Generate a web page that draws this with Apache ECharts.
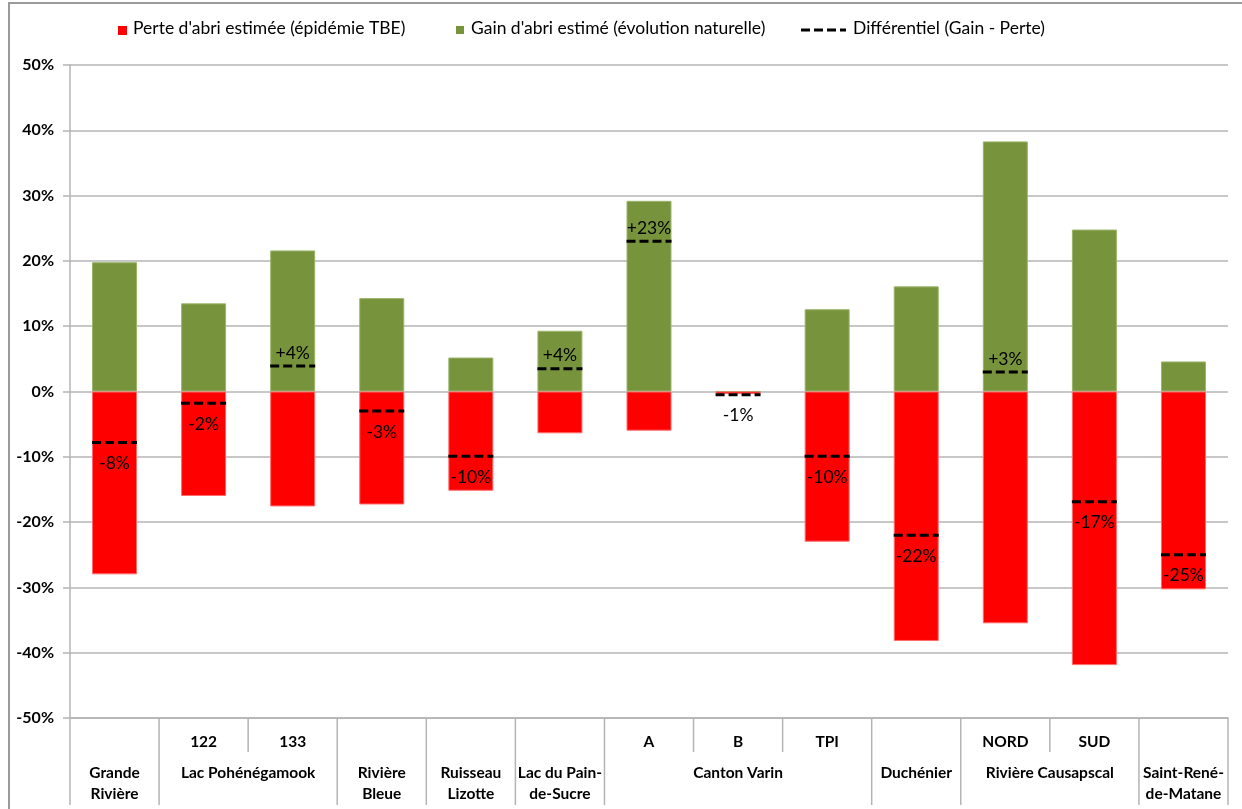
<!DOCTYPE html>
<html>
<head>
<meta charset="utf-8">
<script src="https://cdn.jsdelivr.net/npm/echarts@6/dist/echarts.min.js"></script>
<style>
  html, body { margin: 0; padding: 0; background: #fff; }
  #chart { width: 1242px; height: 809px; }
</style>
</head>
<body>
<div id="chart"></div>
<script>
// Sites (one column each), with sub-labels and the site groups they belong to
const sites = ['Grande Rivière', 'Lac Pohénégamook 122', 'Lac Pohénégamook 133', 'Rivière Bleue',
  'Ruisseau Lizotte', 'Lac du Pain-de-Sucre', 'Canton Varin A', 'Canton Varin B', 'Canton Varin TPI',
  'Duchénier', 'Rivière Causapscal NORD', 'Rivière Causapscal SUD', 'Saint-René-de-Matane'];
const subLabels = ['', '122', '133', '', '', '', 'A', 'B', 'TPI', '', 'NORD', 'SUD', ''];
const groupNames = ['Grande\nRivière', 'Lac Pohénégamook', 'Rivière\nBleue', 'Ruisseau\nLizotte',
  'Lac du Pain-\nde-Sucre', 'Canton Varin', 'Duchénier', 'Rivière Causapscal', 'Saint-René-\nde-Matane'];
const groupSpans = [1, 2, 1, 1, 1, 3, 1, 2, 1];

// Estimated shelter change (%)
const gain = [19.8, 13.5, 21.6, 14.3, 5.2, 9.3, 29.2, 0, 12.6, 16.1, 38.3, 24.8, 4.6];
const loss = [-28.0, -16.0, -17.6, -17.3, -15.2, -6.4, -6.0, -0.4, -23.0, -38.2, -35.5, -41.9, -30.3];
const diff = [-7.8, -1.8, 3.9, -3.0, -9.9, 3.5, 23.0, -0.5, -9.9, -22.0, 3.0, -16.9, -25.0];

const legendNames = ["Perte d'abri estimée (épidémie TBE)", "Gain d'abri estimé (évolution naturelle)", 'Différentiel (Gain - Perte)'];

const FONT = 'Lato, "Open Sans", sans-serif';
const RED = '#ff0000';
const GREEN = '#77933c';
const LINE = '#b4b4b4';
const BAR_FRAC = 0.505;
const Y_MIN = -50, Y_MAX = 50;

// Rows under the category axis: group spans as [start, y, end]
const groupData = [];
(function () {
  let s = 0;
  groupSpans.forEach(function (n) { groupData.push([s, Y_MIN, s + n - 1]); s += n; });
})();

function fmtDiff(v) {
  const r = Math.round(Math.abs(v));
  return (v >= 0 ? '+' : '-') + r + '%';
}

const chart = echarts.init(document.getElementById('chart'), null, { renderer: 'canvas' });

chart.setOption({
  animation: false,
  backgroundColor: '#fff',
  grid: { left: 70, right: 14, top: 65, bottom: 91, containLabel: false },
  xAxis: {
    type: 'category',
    data: sites,
    axisLine: { onZero: false, lineStyle: { color: LINE, width: 1.5 } },
    axisTick: { show: false },
    axisLabel: { show: false },
    splitLine: { show: false }
  },
  yAxis: {
    type: 'value',
    min: Y_MIN, max: Y_MAX, interval: 10,
    axisLine: { show: true, lineStyle: { color: LINE, width: 1.5 } },
    axisTick: { show: true, length: 7, lineStyle: { color: LINE, width: 1.5 } },
    axisLabel: {
      formatter: '{value}%', color: '#000', fontFamily: FONT, fontWeight: 'bold',
      fontSize: 16, margin: 16
    },
    splitLine: { show: true, lineStyle: { color: LINE, width: 1.5 } }
  },
  graphic: [
    {
      type: 'rect', silent: true,
      shape: { x: 9, y: 3, width: 1300, height: 900 },
      style: { fill: 'none', stroke: '#9a9a9a', lineWidth: 2 }
    },
    { type: 'rect', shape: { x: 118, y: 26, width: 9, height: 9 }, style: { fill: RED } },
    { type: 'text', left: 133, top: 19, style: { text: legendNames[0], font: '17.5px ' + FONT, fill: '#000' } },
    { type: 'rect', shape: { x: 456, y: 26, width: 8, height: 8 }, style: { fill: GREEN } },
    { type: 'text', left: 471, top: 19, style: { text: legendNames[1], font: '17.5px ' + FONT, fill: '#000' } },
    {
      type: 'line', shape: { x1: 801, y1: 30, x2: 846, y2: 30 },
      style: { stroke: '#000', lineWidth: 3, lineDash: [9, 4] }
    },
    { type: 'text', left: 853, top: 19, style: { text: legendNames[2], font: '17.5px ' + FONT, fill: '#000' } }
  ],
  series: [
    {
      name: legendNames[1], type: 'bar', data: gain, barWidth: (BAR_FRAC * 100) + '%', barGap: '-100%',
      itemStyle: { color: GREEN, borderColor: '#9bb46a', borderWidth: 1 }, z: 2
    },
    {
      name: legendNames[0], type: 'bar', data: loss, barWidth: (BAR_FRAC * 100) + '%', barGap: '-100%',
      itemStyle: { color: RED, borderColor: '#ff6a6a', borderWidth: 1 }, z: 2
    },
    {
      // Differential: a dashed segment across each column, with its value
      name: legendNames[2], type: 'custom', z: 5,
      data: diff.map(function (v, i) { return [i, v]; }),
      renderItem: function (params, api) {
        const v = api.value(1);
        const p = api.coord([api.value(0), v]);
        const half = api.size([1, 0])[0] * BAR_FRAC / 2;
        return {
          type: 'group',
          children: [
            {
              type: 'line',
              shape: { x1: p[0] - half, y1: p[1], x2: p[0] + half, y2: p[1] },
              style: { stroke: '#000', lineWidth: 3, lineDash: [9, 4] }
            },
            {
              type: 'text',
              style: {
                text: fmtDiff(v), x: p[0], y: v >= 0 ? p[1] - 4 : p[1] + 12,
                align: 'center', verticalAlign: v >= 0 ? 'bottom' : 'top',
                font: '17.5px ' + FONT, fill: '#000'
              }
            }
          ]
        };
      }
    },
    {
      // Two-row category table below the plot
      name: 'table', type: 'custom', z: 3, clip: false, silent: true,
      encode: { x: 0, y: 1 },
      data: groupData,
      renderItem: function (params, api) {
        const start = api.value(0), end = api.value(2);
        const band = api.size([1, 0])[0];
        const base = api.coord([start, Y_MIN])[1];
        const x0 = api.coord([start, Y_MIN])[0] - band / 2;
        const x1 = api.coord([end, Y_MIN])[0] + band / 2;
        const children = [];
        const lineStyle = { stroke: LINE, lineWidth: 1.5 };
        if (start === 0) {
          children.push({ type: 'line', shape: { x1: x0, y1: base, x2: x0, y2: base + 87 }, style: lineStyle });
        }
        children.push({ type: 'line', shape: { x1: x1, y1: base, x2: x1, y2: base + 87 }, style: lineStyle });
        for (let i = start; i <= end; i++) {
          const cx = api.coord([i, Y_MIN])[0];
          if (i < end) {
            children.push({ type: 'line', shape: { x1: cx + band / 2, y1: base, x2: cx + band / 2, y2: base + 34 }, style: lineStyle });
          }
          if (subLabels[i]) {
            children.push({
              type: 'text',
              style: {
                text: subLabels[i], x: cx, y: base + 24, align: 'center', verticalAlign: 'middle',
                font: 'bold 15.5px ' + FONT, fill: '#000'
              }
            });
          }
        }
        children.push({
          type: 'text',
          style: {
            text: groupNames[params.dataIndex], x: (x0 + x1) / 2, y: base + 44,
            align: 'center', verticalAlign: 'top', lineHeight: 21,
            font: 'bold 15.5px ' + FONT, fill: '#000'
          }
        });
        return { type: 'group', children: children };
      }
    }
  ]
});
</script>
</body>
</html>
